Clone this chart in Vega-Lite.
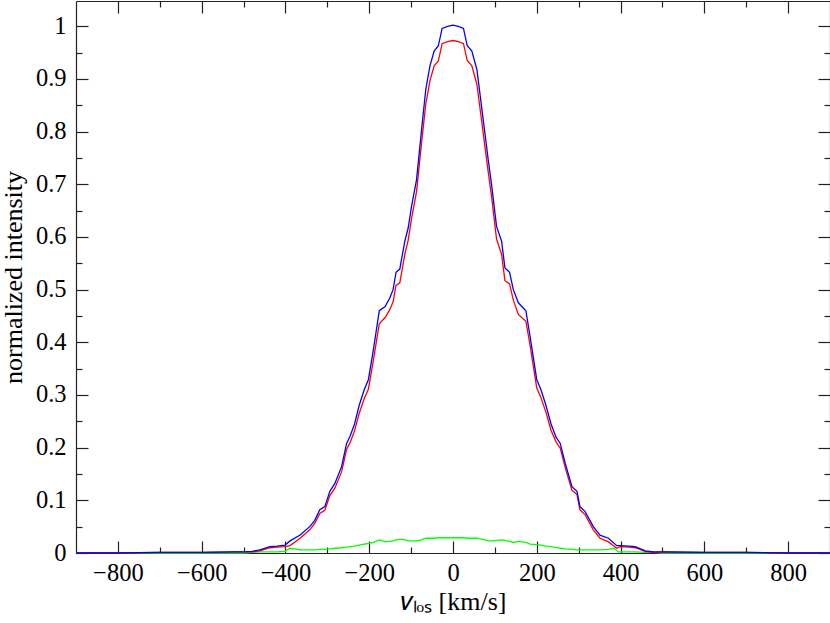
{
  "$schema": "https://vega.github.io/schema/vega-lite/v6.json",
  "width": 754,
  "height": 552,
  "autosize": {"type": "none"},
  "padding": {"left": 76, "top": 1, "right": 0, "bottom": 70},
  "background": "white",
  "config": {
    "view": {"stroke": null},
    "style": {"guide-label": {"font": "Liberation Serif", "fontSize": 24.5, "fill": "#000"}, "guide-title": {"font": "Liberation Serif", "fontSize": 26, "fontWeight": "normal", "fill": "#000"}},
    "axis": {
      "grid": false,
      "domainColor": "#222",
      "domainWidth": 1.2,
      "tickColor": "#222",
      "tickWidth": 1.2,
      "labelFont": "Liberation Serif",
      "labelFontSize": 24.5,
      "labelColor": "#000",
      "titleFont": "Liberation Serif",
      "titleFontSize": 26,
      "titleFontWeight": "normal",
      "titleColor": "#000"
    }
  },
  "data": {
    "values": [
      {"s":"g","v":-900,"i":0},{"s":"g","v":-800,"i":0},{"s":"g","v":-700,"i":0},{"s":"g","v":-600,"i":0},{"s":"g","v":-520,"i":0},{"s":"g","v":-500,"i":0},{"s":"g","v":-480,"i":0.001},{"s":"g","v":-461,"i":0.002},{"s":"g","v":-437,"i":0.002},{"s":"g","v":-420,"i":0.002},{"s":"g","v":-401,"i":0.003},{"s":"g","v":-389,"i":0.009},{"s":"g","v":-365,"i":0.006},{"s":"g","v":-342,"i":0.006},{"s":"g","v":-330,"i":0.006},{"s":"g","v":-318,"i":0.007},{"s":"g","v":-306,"i":0.007},{"s":"g","v":-294,"i":0.008},{"s":"g","v":-282,"i":0.009},{"s":"g","v":-266,"i":0.01},{"s":"g","v":-254,"i":0.011},{"s":"g","v":-246,"i":0.012},{"s":"g","v":-235,"i":0.013},{"s":"g","v":-224,"i":0.015},{"s":"g","v":-212,"i":0.017},{"s":"g","v":-202,"i":0.018},{"s":"g","v":-190,"i":0.02},{"s":"g","v":-176,"i":0.025},{"s":"g","v":-162,"i":0.021},{"s":"g","v":-151,"i":0.022},{"s":"g","v":-143,"i":0.023},{"s":"g","v":-136,"i":0.025},{"s":"g","v":-127,"i":0.026},{"s":"g","v":-123,"i":0.026},{"s":"g","v":-115,"i":0.025},{"s":"g","v":-107,"i":0.023},{"s":"g","v":-99,"i":0.023},{"s":"g","v":-87,"i":0.023},{"s":"g","v":-75,"i":0.025},{"s":"g","v":-65,"i":0.028},{"s":"g","v":-55,"i":0.028},{"s":"g","v":-45,"i":0.028},{"s":"g","v":-35,"i":0.029},{"s":"g","v":-26,"i":0.029},{"s":"g","v":-13,"i":0.029},{"s":"g","v":0,"i":0.029},{"s":"g","v":13,"i":0.029},{"s":"g","v":25,"i":0.029},{"s":"g","v":34,"i":0.028},{"s":"g","v":45,"i":0.028},{"s":"g","v":57,"i":0.028},{"s":"g","v":65,"i":0.027},{"s":"g","v":76,"i":0.025},{"s":"g","v":84,"i":0.023},{"s":"g","v":92,"i":0.023},{"s":"g","v":104,"i":0.024},{"s":"g","v":116,"i":0.025},{"s":"g","v":124,"i":0.024},{"s":"g","v":135,"i":0.022},{"s":"g","v":144,"i":0.02},{"s":"g","v":156,"i":0.022},{"s":"g","v":174,"i":0.02},{"s":"g","v":184,"i":0.017},{"s":"g","v":200,"i":0.016},{"s":"g","v":210,"i":0.015},{"s":"g","v":222,"i":0.013},{"s":"g","v":234,"i":0.012},{"s":"g","v":246,"i":0.01},{"s":"g","v":256,"i":0.009},{"s":"g","v":268,"i":0.008},{"s":"g","v":284,"i":0.007},{"s":"g","v":296,"i":0.006},{"s":"g","v":303,"i":0.006},{"s":"g","v":315,"i":0.006},{"s":"g","v":335,"i":0.006},{"s":"g","v":351,"i":0.006},{"s":"g","v":371,"i":0.007},{"s":"g","v":385,"i":0.009},{"s":"g","v":394,"i":0.002},{"s":"g","v":420,"i":0.002},{"s":"g","v":435,"i":0.002},{"s":"g","v":459,"i":0.001},{"s":"g","v":479,"i":0.001},{"s":"g","v":500,"i":0},{"s":"g","v":600,"i":0},{"s":"g","v":700,"i":0},{"s":"g","v":800,"i":0},{"s":"g","v":900,"i":0},

      {"s":"r","v":-900,"i":0},{"s":"r","v":-800,"i":0},{"s":"r","v":-700,"i":0.001},{"s":"r","v":-600,"i":0.001},{"s":"r","v":-520,"i":0.002},{"s":"r","v":-500,"i":0.002},{"s":"r","v":-480,"i":0.002},{"s":"r","v":-461,"i":0.004},{"s":"r","v":-437,"i":0.01},{"s":"r","v":-420,"i":0.011},{"s":"r","v":-401,"i":0.012},{"s":"r","v":-389,"i":0.014},{"s":"r","v":-365,"i":0.028},{"s":"r","v":-342,"i":0.044},{"s":"r","v":-330,"i":0.056},{"s":"r","v":-318,"i":0.075},{"s":"r","v":-306,"i":0.081},{"s":"r","v":-294,"i":0.109},{"s":"r","v":-282,"i":0.123},{"s":"r","v":-266,"i":0.154},{"s":"r","v":-254,"i":0.197},{"s":"r","v":-246,"i":0.209},{"s":"r","v":-235,"i":0.232},{"s":"r","v":-224,"i":0.265},{"s":"r","v":-212,"i":0.293},{"s":"r","v":-202,"i":0.311},{"s":"r","v":-190,"i":0.366},{"s":"r","v":-176,"i":0.435},{"s":"r","v":-162,"i":0.447},{"s":"r","v":-151,"i":0.462},{"s":"r","v":-143,"i":0.477},{"s":"r","v":-136,"i":0.508},{"s":"r","v":-127,"i":0.513},{"s":"r","v":-123,"i":0.531},{"s":"r","v":-115,"i":0.567},{"s":"r","v":-107,"i":0.594},{"s":"r","v":-99,"i":0.635},{"s":"r","v":-87,"i":0.686},{"s":"r","v":-75,"i":0.779},{"s":"r","v":-65,"i":0.852},{"s":"r","v":-55,"i":0.897},{"s":"r","v":-45,"i":0.925},{"s":"r","v":-35,"i":0.934},{"s":"r","v":-26,"i":0.967},{"s":"r","v":-13,"i":0.971},{"s":"r","v":0,"i":0.973},{"s":"r","v":13,"i":0.971},{"s":"r","v":25,"i":0.967},{"s":"r","v":34,"i":0.935},{"s":"r","v":45,"i":0.925},{"s":"r","v":57,"i":0.89},{"s":"r","v":65,"i":0.841},{"s":"r","v":76,"i":0.773},{"s":"r","v":84,"i":0.724},{"s":"r","v":92,"i":0.677},{"s":"r","v":104,"i":0.596},{"s":"r","v":116,"i":0.567},{"s":"r","v":124,"i":0.517},{"s":"r","v":135,"i":0.511},{"s":"r","v":144,"i":0.48},{"s":"r","v":156,"i":0.453},{"s":"r","v":174,"i":0.44},{"s":"r","v":184,"i":0.394},{"s":"r","v":200,"i":0.313},{"s":"r","v":210,"i":0.295},{"s":"r","v":222,"i":0.267},{"s":"r","v":234,"i":0.233},{"s":"r","v":246,"i":0.211},{"s":"r","v":256,"i":0.199},{"s":"r","v":268,"i":0.162},{"s":"r","v":284,"i":0.119},{"s":"r","v":296,"i":0.111},{"s":"r","v":303,"i":0.082},{"s":"r","v":315,"i":0.073},{"s":"r","v":335,"i":0.044},{"s":"r","v":351,"i":0.028},{"s":"r","v":371,"i":0.021},{"s":"r","v":391,"i":0.009},{"s":"r","v":399,"i":0.012},{"s":"r","v":420,"i":0.011},{"s":"r","v":435,"i":0.01},{"s":"r","v":459,"i":0.003},{"s":"r","v":479,"i":0.001},{"s":"r","v":500,"i":0.002},{"s":"r","v":600,"i":0.001},{"s":"r","v":700,"i":0.001},{"s":"r","v":800,"i":0},{"s":"r","v":900,"i":0},

      {"s":"b","v":-900,"i":0},{"s":"b","v":-800,"i":0},{"s":"b","v":-700,"i":0.001},{"s":"b","v":-600,"i":0.001},{"s":"b","v":-520,"i":0.002},{"s":"b","v":-500,"i":0.002},{"s":"b","v":-480,"i":0.003},{"s":"b","v":-461,"i":0.006},{"s":"b","v":-437,"i":0.012},{"s":"b","v":-420,"i":0.013},{"s":"b","v":-401,"i":0.015},{"s":"b","v":-389,"i":0.023},{"s":"b","v":-365,"i":0.034},{"s":"b","v":-342,"i":0.05},{"s":"b","v":-330,"i":0.062},{"s":"b","v":-318,"i":0.082},{"s":"b","v":-306,"i":0.088},{"s":"b","v":-294,"i":0.117},{"s":"b","v":-282,"i":0.132},{"s":"b","v":-266,"i":0.164},{"s":"b","v":-254,"i":0.208},{"s":"b","v":-246,"i":0.221},{"s":"b","v":-235,"i":0.245},{"s":"b","v":-224,"i":0.28},{"s":"b","v":-212,"i":0.31},{"s":"b","v":-202,"i":0.329},{"s":"b","v":-190,"i":0.386},{"s":"b","v":-176,"i":0.46},{"s":"b","v":-162,"i":0.468},{"s":"b","v":-151,"i":0.484},{"s":"b","v":-143,"i":0.5},{"s":"b","v":-136,"i":0.533},{"s":"b","v":-127,"i":0.539},{"s":"b","v":-123,"i":0.557},{"s":"b","v":-115,"i":0.592},{"s":"b","v":-107,"i":0.617},{"s":"b","v":-99,"i":0.658},{"s":"b","v":-87,"i":0.709},{"s":"b","v":-75,"i":0.804},{"s":"b","v":-65,"i":0.88},{"s":"b","v":-55,"i":0.925},{"s":"b","v":-45,"i":0.953},{"s":"b","v":-35,"i":0.963},{"s":"b","v":-26,"i":0.996},{"s":"b","v":-13,"i":1.0},{"s":"b","v":0,"i":1.002},{"s":"b","v":13,"i":1.0},{"s":"b","v":25,"i":0.996},{"s":"b","v":34,"i":0.963},{"s":"b","v":45,"i":0.953},{"s":"b","v":57,"i":0.918},{"s":"b","v":65,"i":0.868},{"s":"b","v":76,"i":0.798},{"s":"b","v":84,"i":0.747},{"s":"b","v":92,"i":0.7},{"s":"b","v":104,"i":0.62},{"s":"b","v":116,"i":0.592},{"s":"b","v":124,"i":0.541},{"s":"b","v":135,"i":0.533},{"s":"b","v":144,"i":0.5},{"s":"b","v":156,"i":0.475},{"s":"b","v":174,"i":0.46},{"s":"b","v":184,"i":0.411},{"s":"b","v":200,"i":0.329},{"s":"b","v":210,"i":0.31},{"s":"b","v":222,"i":0.28},{"s":"b","v":234,"i":0.245},{"s":"b","v":246,"i":0.22},{"s":"b","v":256,"i":0.208},{"s":"b","v":268,"i":0.17},{"s":"b","v":284,"i":0.126},{"s":"b","v":296,"i":0.117},{"s":"b","v":303,"i":0.088},{"s":"b","v":315,"i":0.079},{"s":"b","v":335,"i":0.05},{"s":"b","v":351,"i":0.034},{"s":"b","v":371,"i":0.028},{"s":"b","v":391,"i":0.014},{"s":"b","v":399,"i":0.014},{"s":"b","v":420,"i":0.013},{"s":"b","v":435,"i":0.012},{"s":"b","v":459,"i":0.004},{"s":"b","v":479,"i":0.002},{"s":"b","v":500,"i":0.002},{"s":"b","v":600,"i":0.001},{"s":"b","v":700,"i":0.001},{"s":"b","v":800,"i":0},{"s":"b","v":900,"i":0}
    ]
  },
  "layer": [
    {
      "transform": [{"filter": "datum.s === 'g'"}],
      "mark": {"type": "line", "color": "#00ff00", "strokeWidth": 1.3},
      "encoding": {
        "x": {"field": "v", "type": "quantitative", "scale": {"domain": [-900, 900], "nice": false, "zero": false},
          "axis": {"orient": "bottom", "values": [-800, -600, -400, -200, 0, 200, 400, 600, 800], "tickSize": -12, "labelPadding": 20, "format": "d", "labelFont": "Liberation Serif", "labelFlush": false, "labelOverlap": false, "title": "𝑣ₗₒₛ [km/s]", "titlePadding": 4}},
        "y": {"field": "i", "type": "quantitative", "scale": {"domain": [0, 1.048], "nice": false, "zero": false},
          "axis": {"orient": "left", "values": [0, 0.1, 0.2, 0.3, 0.4, 0.5, 0.6, 0.7, 0.8, 0.9, 1], "tickSize": -12, "labelPadding": 22, "format": "~g", "labelFont": "Liberation Serif", "labelFlush": false, "labelOverlap": false, "title": "normalized intensity", "titlePadding": 9}}
      }
    },
    {
      "transform": [{"filter": "datum.s === 'r'"}],
      "mark": {"type": "line", "color": "#ff0000", "strokeWidth": 1.3},
      "encoding": {
        "x": {"field": "v", "type": "quantitative", "axis": null},
        "y": {"field": "i", "type": "quantitative", "axis": null}
      }
    },
    {
      "transform": [{"filter": "datum.s === 'b'"}],
      "mark": {"type": "line", "color": "#0000ff", "strokeWidth": 1.3},
      "encoding": {
        "x": {"field": "v", "type": "quantitative", "axis": null},
        "y": {"field": "i", "type": "quantitative", "axis": null}
      }
    },
    {
      "transform": [{"filter": "datum.s === 'b'"}],
      "mark": {"type": "line", "opacity": 0},
      "encoding": {
        "x": {"field": "v", "type": "quantitative",
          "axis": {"orient": "bottom", "values": [-700, -500, -300, -100, 100, 300, 500, 700], "tickSize": -6, "labels": false, "domain": false, "title": null}},
        "y": {"field": "i", "type": "quantitative",
          "axis": {"orient": "left", "values": [0.05, 0.15, 0.25, 0.35, 0.45, 0.55, 0.65, 0.75, 0.85, 0.95], "tickSize": -6, "labels": false, "domain": false, "title": null}}
      }
    },
    {
      "transform": [{"filter": "datum.s === 'b'"}],
      "mark": {"type": "line", "opacity": 0},
      "encoding": {
        "x": {"field": "v", "type": "quantitative",
          "axis": {"orient": "top", "values": [-800, -600, -400, -200, 0, 200, 400, 600, 800], "tickSize": -12, "labels": false, "title": null}},
        "y": {"field": "i", "type": "quantitative",
          "axis": {"orient": "right", "values": [0, 0.1, 0.2, 0.3, 0.4, 0.5, 0.6, 0.7, 0.8, 0.9, 1], "tickSize": -12, "labels": false, "title": null}}
      }
    },
    {
      "transform": [{"filter": "datum.s === 'b'"}],
      "mark": {"type": "line", "opacity": 0},
      "encoding": {
        "x": {"field": "v", "type": "quantitative",
          "axis": {"orient": "top", "values": [-700, -500, -300, -100, 100, 300, 500, 700], "tickSize": -6, "labels": false, "domain": false, "title": null}},
        "y": {"field": "i", "type": "quantitative",
          "axis": {"orient": "right", "values": [0.05, 0.15, 0.25, 0.35, 0.45, 0.55, 0.65, 0.75, 0.85, 0.95], "tickSize": -6, "labels": false, "domain": false, "title": null}}
      }
    }
  ],
  "resolve": {"axis": {"x": "independent", "y": "independent"}}
}
